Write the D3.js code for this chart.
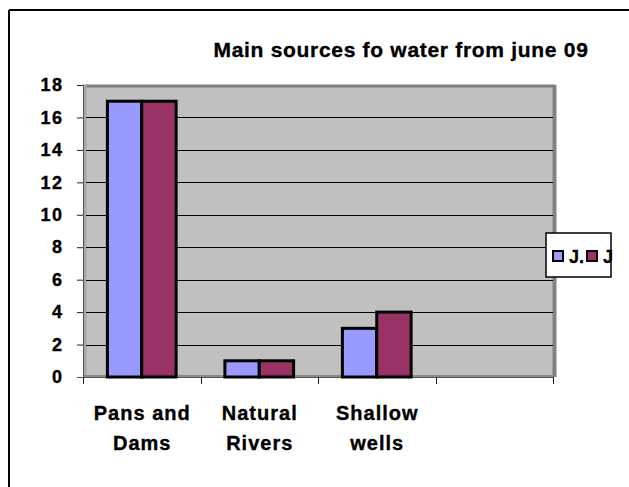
<!DOCTYPE html>
<html><head><meta charset="utf-8">
<script src="https://cdn.jsdelivr.net/npm/d3@7"></script>
<style>body{margin:0;background:#fff}text{font-family:"Liberation Sans",Arial,sans-serif;font-weight:bold;stroke:#000;stroke-width:0.35px}</style>
</head><body>
<svg id="c" width="629" height="487"></svg>
<script>
const categories = [["Pans and","Dams"],["Natural","Rivers"],["Shallow","wells"],[""]];
const seriesNames = ["J.", "J"];
const series1 = [17, 1, 3, null];
const series2 = [17, 1, 4, null];
const yTicks = [0,2,4,6,8,10,12,14,16,18];
const title = "Main sources fo water from june 09";
const colors = ["#9999FF", "#993366"];

const svg = d3.select("#c");
// outer frame (top & left visible)
svg.append("line").attr("x1",9).attr("x2",629).attr("y1",10).attr("y2",10).attr("stroke","#000").attr("stroke-width",2);
svg.append("line").attr("x1",9).attr("x2",9).attr("y1",10).attr("y2",487).attr("stroke","#000").attr("stroke-width",2);

const L=83, R=553, T=85, B=377;
const x = d3.scaleBand().domain(d3.range(categories.length)).range([L,R]);
const y = d3.scaleLinear().domain([0,18]).range([B,T]);

// plot background
svg.append("rect").attr("x",L).attr("y",T).attr("width",R-L).attr("height",B-T).attr("fill","#C0C0C0");
// wall edges
svg.append("line").attr("x1",L).attr("x2",R+2).attr("y1",T+1).attr("y2",T+1).attr("stroke","#808080").attr("stroke-width",3);
svg.append("line").attr("x1",R+1.5).attr("x2",R+1.5).attr("y1",T).attr("y2",B).attr("stroke","#808080").attr("stroke-width",4);
svg.append("line").attr("x1",L+2).attr("x2",L+2).attr("y1",T).attr("y2",B).attr("stroke","#a8a8a8").attr("stroke-width",3);
svg.append("line").attr("x1",L).attr("x2",R+3).attr("y1",B-1).attr("y2",B-1).attr("stroke","#8a8a8a").attr("stroke-width",2);

// gridlines
svg.append("g").selectAll("line").data(yTicks.filter(d=>d>0&&d<18)).join("line")
  .attr("x1",L+3).attr("x2",R).attr("y1",d=>Math.round(y(d))+0.5).attr("y2",d=>Math.round(y(d))+0.5)
  .attr("stroke","#000").attr("stroke-width",1);

// y axis
const ya = svg.append("g").attr("transform",`translate(${L},0)`)
  .call(d3.axisLeft(y).tickValues(yTicks).tickSize(6).tickPadding(13.5).tickFormat(d3.format("d")));
ya.select(".domain").attr("stroke","#555");
ya.selectAll(".tick line").attr("stroke","#222");
ya.selectAll(".tick text").attr("font-size",18).attr("letter-spacing",1.5).attr("font-family","Liberation Sans, Arial, sans-serif").attr("font-weight","bold").attr("fill","#000");

// x axis
const xa = svg.append("g").attr("transform",`translate(0,${B})`);
xa.append("line").attr("x1",L-6).attr("x2",R+1).attr("y1",0.5).attr("y2",0.5).attr("stroke","#555");
const bounds = [...categories.map((c,i)=>x(i)), R];
xa.selectAll("line.t").data(bounds).join("line").attr("class","t")
  .attr("x1",d=>Math.round(d)+0.5).attr("x2",d=>Math.round(d)+0.5).attr("y1",0).attr("y2",7).attr("stroke","#222");
xa.selectAll("text.cl").data(categories).join("text").attr("class","cl")
  .attr("x",(d,i)=>x(i)+x.bandwidth()/2+0.5).attr("text-anchor","middle").attr("font-size",20).attr("letter-spacing",1)
  .each(function(d){ d3.select(this).selectAll("tspan").data(d).join("tspan")
    .attr("x",d3.select(this).attr("x")).attr("y",(t,j)=>43+j*30).text(t=>t); });

// bars
const inner = d3.scaleBand().domain([0,1]).range([0, x.bandwidth()]).paddingOuter(0.71).paddingInner(0);
const data = [series1, series2];
data.forEach((s,si)=>{
  svg.append("g").selectAll("rect").data(s.map((v,i)=>({v,i})).filter(d=>d.v!=null)).join("rect")
    .attr("x",d=>x(d.i)+inner(si)).attr("width",inner.bandwidth())
    .attr("y",d=>y(d.v)).attr("height",d=>B-y(d.v))
    .attr("fill",colors[si]).attr("stroke","#000").attr("stroke-width",3);
});

// title
svg.append("text").attr("x",401).attr("y",57).attr("text-anchor","middle").attr("font-size",21).attr("letter-spacing",0.7).text(title);

// legend
const lg = svg.append("g");
lg.append("rect").attr("x",546).attr("y",233).attr("width",65).attr("height",44).attr("fill","#fff").attr("stroke","#000").attr("stroke-width",1.5);
const lx = [553, 587];
seriesNames.forEach((n,i)=>{
  lg.append("rect").attr("x",lx[i]).attr("y",251).attr("width",10).attr("height",10).attr("fill",colors[i]).attr("stroke","#000").attr("stroke-width",2);
  lg.append("text").attr("x",lx[i]+16).attr("y",263).attr("font-size",18).text(n);
});
</script>
</body></html>
